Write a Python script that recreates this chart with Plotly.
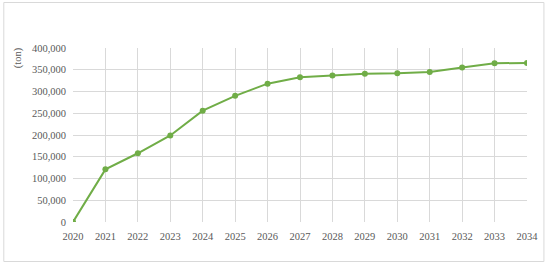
import plotly.graph_objects as go

# Data
years = list(range(2020, 2035))
tons = [0, 121000, 158000, 199000, 256000, 290000, 318000, 333000,
        337000, 341000, 342000, 345000, 355000, 365000, 365500]
y_ticks = [0, 50000, 100000, 150000, 200000, 250000, 300000, 350000, 400000]

GREEN = "#70AD47"
GRID = "#D9D9D9"
TEXT = "#595959"
FONT = "Liberation Serif"

fig = go.Figure()
fig.add_trace(go.Scatter(
    x=years,
    y=tons,
    mode="lines+markers",
    line=dict(color=GREEN, width=2),
    marker=dict(color=GREEN, size=6),
    showlegend=False,
))

fig.update_layout(
    width=550,
    height=267,
    margin=dict(l=73, r=21, t=48, b=45),
    paper_bgcolor="white",
    plot_bgcolor="white",
    font=dict(family=FONT, size=10.5, color=TEXT),
    xaxis=dict(
        range=[2020, 2034],
        tickvals=years,
        showgrid=True,
        gridcolor=GRID,
        gridwidth=1,
        zeroline=False,
        showline=False,
        ticklabelstandoff=6,
    ),
    yaxis=dict(
        range=[0, 400000],
        tickvals=y_ticks,
        tickformat=",d",
        showgrid=True,
        gridcolor=GRID,
        gridwidth=1,
        zeroline=False,
        showline=False,
        ticklabelstandoff=6,
    ),
    annotations=[dict(
        text="(ton)",
        xref="paper", yref="paper",
        x=-0.122, y=0.945,
        xanchor="center", yanchor="middle",
        textangle=-90,
        showarrow=False,
        font=dict(family=FONT, size=10.5, color=TEXT),
    )],
    shapes=[dict(
        type="rect",
        xref="paper", yref="paper",
        x0=-0.1524, x1=1.0373, y0=-0.227, y1=1.2615,
        line=dict(color=GRID, width=1),
        layer="below",
    )],
)

# drop the browser's default body margin so the figure sits at 0,0
fig.write_html("out.html", config={"displayModeBar": False},
               post_script="document.body.style.margin='0';")
